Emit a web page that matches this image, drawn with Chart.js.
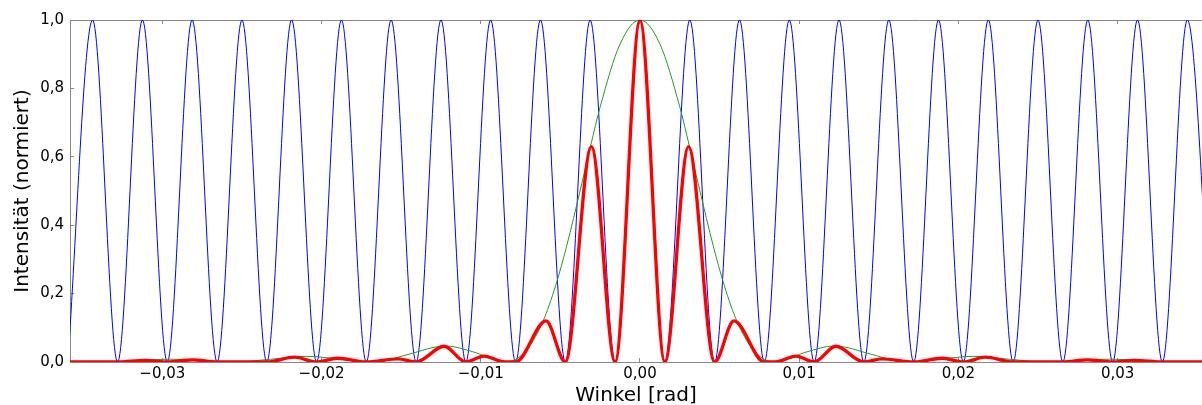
<!DOCTYPE html>
<html>
<head>
<meta charset="utf-8">
<title>Doppelspalt</title>
<script src="https://cdn.jsdelivr.net/npm/chart.js@4.4.1/dist/chart.umd.min.js"></script>
<style>
    html, body { margin: 0; padding: 0; background: #fff; }
    canvas { display: block; }
</style>
</head>
<body>
<canvas id="line-chart" width="1202" height="405"></canvas>
<script>
// tick values of both axes
var x_ticks = [-0.03, -0.02, -0.01, 0, 0.01, 0.02, 0.03];
var y_ticks = [0, 0.2, 0.4, 0.6, 0.8, 1.0];

// visible x range (the right side of the plot is cut off in the picture)
var x_min = -0.0358;
var x_max = 0.0353;

// blue: double slit interference, maxima and minima
var blue_x = [-0.03594, -0.03438, -0.03281, -0.03125, -0.02969, -0.02813, -0.02656, -0.025,
              -0.02344, -0.02188, -0.02031, -0.01875, -0.01719, -0.01563, -0.01406, -0.0125,
              -0.01094, -0.00938, -0.00781, -0.00625, -0.00469, -0.00313, -0.00156, 0,
              0.00156, 0.00313, 0.00469, 0.00625, 0.00781, 0.00938, 0.01094, 0.0125,
              0.01406, 0.01563, 0.01719, 0.01875, 0.02031, 0.02188, 0.02344, 0.025,
              0.02656, 0.02813, 0.02969, 0.03125, 0.03281, 0.03438, 0.03594];
var blue_y = [0, 1, 0, 1, 0, 1, 0, 1,
              0, 1, 0, 1, 0, 1, 0, 1,
              0, 1, 0, 1, 0, 1, 0, 1,
              0, 1, 0, 1, 0, 1, 0, 1,
              0, 1, 0, 1, 0, 1, 0, 1,
              0, 1, 0, 1, 0, 1, 0];

// green: single slit envelope
var green_x = [-0.0381, -0.034, -0.0295, -0.0255, -0.0232, -0.0209, -0.0188, -0.017,
               -0.016, -0.0145, -0.0122, -0.0105, -0.0085, -0.0078, -0.007, -0.0061,
               -0.0053, -0.0046, -0.00375, -0.0031, -0.0025, -0.00125, 0,
               0.00125, 0.0025, 0.0031, 0.00375, 0.0046, 0.0053, 0.0061, 0.007,
               0.0078, 0.0085, 0.0105, 0.0122, 0.0145, 0.016, 0.017, 0.0188,
               0.0209, 0.0232, 0.0255, 0.0295, 0.034, 0.0381];
var green_y = [0.005, 0, 0.0083, 0, 0.008, 0.0165, 0.008, 0,
               0.004, 0.023, 0.047, 0.03, 0, 0.008, 0.042, 0.118,
               0.223, 0.34, 0.503, 0.632, 0.746, 0.93, 1,
               0.93, 0.746, 0.632, 0.503, 0.34, 0.223, 0.118, 0.042,
               0.008, 0, 0.03, 0.047, 0.023, 0.004, 0, 0.008,
               0.0165, 0.008, 0, 0.0083, 0, 0.005];

// red: resulting intensity
var red_x = [-0.03594, -0.03281, -0.0311, -0.02969, -0.0281, -0.02656, -0.02344, -0.0217,
             -0.02031, -0.019, -0.01719, -0.0152, -0.01406, -0.0123, -0.01094, -0.0098,
             -0.0085, -0.00781, -0.0059, -0.00469, -0.00305, -0.00156, 0,
             0.00156, 0.00305, 0.00469, 0.0059, 0.00781, 0.0085, 0.0098, 0.01094,
             0.0123, 0.01406, 0.0152, 0.01719, 0.019, 0.02031, 0.0217, 0.02344,
             0.02656, 0.0281, 0.02969, 0.0311, 0.03281, 0.03594];
var red_y = [0, 0, 0.005, 0, 0.006, 0, 0, 0.014,
             0, 0.011, 0, 0.009, 0, 0.046, 0, 0.017,
             0, 0, 0.12, 0, 0.63, 0, 1,
             0, 0.63, 0, 0.12, 0, 0, 0.017, 0,
             0.046, 0, 0.009, 0, 0.011, 0, 0.014, 0,
             0, 0.006, 0, 0.005, 0, 0];

var axis_color = '#888888';
var font_family = "'DejaVu Sans', sans-serif";

function toPoints(xs, ys) {
    var pts = [];
    for (var i = 0; i < xs.length; i++)
        pts.push({x: xs[i], y: ys[i]});
    return pts;
}

// german number format: comma and real minus sign
function fmt(v, digits) {
    return Number(v).toFixed(digits).replace('.', ',').replace('-', '\u2212');
}

function setTicks(list) {
    return function (scale) {
        scale.ticks = list.map(function (v) { return {value: v}; });
    };
}

var grid_opts = {
    drawOnChartArea: false,
    drawTicks: true,
    tickLength: -4,
    color: axis_color,
    lineWidth: 1
};
var border_opts = {color: axis_color, width: 1};

function lineSet(label, xs, ys, color, width) {
    return {
        label: label,
        data: toPoints(xs, ys),
        borderColor: color,
        backgroundColor: color,
        borderWidth: width,
        pointRadius: 0,
        fill: false,
        cubicInterpolationMode: 'monotone'
    };
}

var chart = new Chart(document.getElementById('line-chart'), {
    type: 'line',
    data: {
        // first dataset is drawn on top
        datasets: [
            lineSet('Doppelspalt gesamt', red_x, red_y, '#ff0000', 3.3),
            lineSet('Einzelspalt', green_x, green_y, '#259a25', 1),
            lineSet('Interferenz', blue_x, blue_y, '#0000ff', 1)
        ]
    },
    options: {
        responsive: false,
        animation: false,
        events: [],
        layout: {padding: {top: 20, left: 0, right: 0, bottom: 0}},
        plugins: {
            legend: {display: false},
            tooltip: {enabled: false}
        },
        scales: {
            x: {
                type: 'linear',
                position: 'bottom',
                min: x_min,
                max: x_max,
                afterBuildTicks: setTicks(x_ticks),
                afterFit: function (scale) { scale.height = 43; },
                grid: grid_opts,
                border: border_opts,
                ticks: {
                    padding: 7,
                    color: '#000',
                    autoSkip: false,
                    maxRotation: 0,
                    font: {family: font_family, size: 15},
                    callback: function (v) { return fmt(v, 2); }
                },
                title: {
                    display: true,
                    text: 'Winkel [rad]',
                    color: '#000',
                    padding: 0,
                    font: {family: font_family, size: 20, lineHeight: 0.93}
                }
            },
            x2: {
                type: 'linear',
                position: 'top',
                min: x_min,
                max: x_max,
                afterBuildTicks: setTicks(x_ticks),
                afterFit: function (scale) { scale.height = 0; },
                grid: grid_opts,
                border: border_opts,
                ticks: {display: false}
            },
            y: {
                type: 'linear',
                position: 'left',
                min: 0,
                max: 1,
                afterBuildTicks: setTicks(y_ticks),
                afterFit: function (scale) { scale.width = 70; },
                grid: grid_opts,
                border: border_opts,
                ticks: {
                    padding: 10,
                    color: '#000',
                    font: {family: font_family, size: 15},
                    callback: function (v) { return fmt(v, 1); }
                },
                title: {
                    display: true,
                    text: 'Intensität (normiert)',
                    color: '#000',
                    padding: {top: 10.5, bottom: 0},
                    font: {family: font_family, size: 20}
                }
            }
        }
    }
});
</script>
</body>
</html>
